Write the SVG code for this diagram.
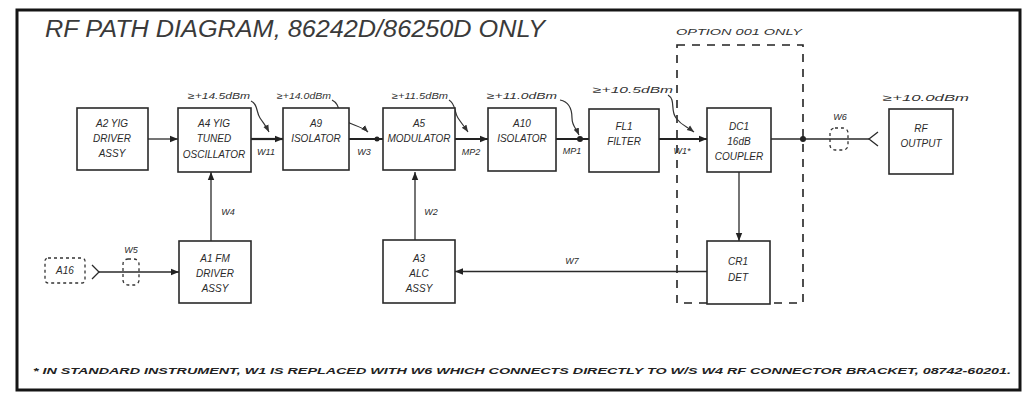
<svg xmlns="http://www.w3.org/2000/svg" width="1029" height="402" viewBox="0 0 1029 402">
<defs>
<style>
.frame{fill:none;stroke:#151515;stroke-width:3}
.box{fill:#fff;stroke:#2a2a2a;stroke-width:1.6}
.t{font-family:"Liberation Sans",Arial,sans-serif;font-style:italic;fill:#2a2a2a;font-size:10px;text-anchor:middle}
.s{font-family:"Liberation Sans",Arial,sans-serif;font-style:italic;fill:#333;font-size:9px}
.w{font-family:"Liberation Sans",Arial,sans-serif;font-style:italic;fill:#2a2a2a;font-size:9px;text-anchor:middle}
.thin{fill:none;stroke:#2a2a2a;stroke-width:1.3}
.rf{fill:none;stroke:#222;stroke-width:2.2}
.sq{fill:none;stroke:#333;stroke-width:1.2}
.dash{fill:none;stroke:#222;stroke-width:1.6;stroke-dasharray:8,7}
.dsm{fill:none;stroke:#333;stroke-width:1.3;stroke-dasharray:3,3}
</style>
<marker id="arr" viewBox="0 0 10 10" refX="10" refY="5" markerWidth="8" markerHeight="8" orient="auto" markerUnits="userSpaceOnUse">
<path d="M0,1 L10,5 L0,9 z" fill="#222"/>
</marker>
<marker id="arrs" viewBox="0 0 10 10" refX="10" refY="5" markerWidth="7" markerHeight="7" orient="auto" markerUnits="userSpaceOnUse">
<path d="M0,1 L10,5 L0,9 z" fill="#333"/>
</marker>
</defs>
<rect width="1029" height="402" fill="#fff"/>
<rect class="frame" x="17" y="10" width="1003" height="380"/>
<text x="45" y="37" font-family="'Liberation Sans',Arial,sans-serif" font-style="italic" font-size="23" fill="#3a3a3a" textLength="500" lengthAdjust="spacingAndGlyphs">RF PATH DIAGRAM, 86242D/86250D ONLY</text>
<text x="676" y="35" class="s" font-size="9.5" textLength="126" lengthAdjust="spacingAndGlyphs">OPTION 001 ONLY</text>
<rect class="dash" x="677" y="45" width="126" height="258"/>

<g id="connectors">
<line class="thin" x1="148" y1="139" x2="178" y2="139" marker-end="url(#arr)"/>
<line class="rf" x1="251" y1="139" x2="283" y2="139" marker-end="url(#arr)"/>
<line class="rf" x1="349" y1="139" x2="383" y2="139"/>
<line class="rf" x1="455" y1="139" x2="488" y2="139" marker-end="url(#arr)"/>
<line class="rf" x1="556" y1="139" x2="589" y2="139"/>
<line class="rf" x1="659" y1="139" x2="707" y2="139" marker-end="url(#arr)"/>
<circle cx="377" cy="139" r="2.5" fill="#222"/>
<circle cx="580" cy="139" r="3" fill="#222"/>
<line class="thin" x1="771" y1="139" x2="869" y2="139"/>
<circle cx="803" cy="139" r="3" fill="#222"/>
<path class="thin" d="M878,132 L869,139 L878,146"/>
<rect class="dsm" x="830" y="128" width="18" height="22" rx="5"/>
<line class="thin" x1="211" y1="241" x2="211" y2="172" marker-end="url(#arr)"/>
<line class="thin" x1="415" y1="240" x2="415" y2="172" marker-end="url(#arr)"/>
<line class="thin" x1="739" y1="172" x2="739" y2="241" marker-end="url(#arr)"/>
<line class="thin" x1="707" y1="271.5" x2="455" y2="271.5" marker-end="url(#arr)"/>
<line class="thin" x1="99" y1="272" x2="179" y2="272" marker-end="url(#arr)"/>
<path class="thin" d="M92,265 L99,272 L92,279"/>
<rect class="dsm" x="123" y="259" width="16" height="26" rx="5"/>
<path class="sq" d="M251,101 C258,104 256,112 260,118 S266,126 269,132" marker-end="url(#arrs)"/>
<path class="sq" d="M332,100 C340,104 338,112 342,118 S362,126 368,132" marker-end="url(#arrs)"/>
<path class="sq" d="M449,100 C456,104 454,112 458,118 S464,126 468,132" marker-end="url(#arrs)"/>
<path class="sq" d="M560,100 C570,102 572,110 572,118 S576,128 579,135" marker-end="url(#arrs)"/>
<path class="sq" d="M668,95 C676,100 670,110 676,118 S686,126 694,132" marker-end="url(#arrs)"/>
</g>

<g id="power-labels">
<text class="s" x="188" y="99" textLength="62" lengthAdjust="spacingAndGlyphs">≥+14.5dBm</text>
<text class="s" x="277" y="99" textLength="54" lengthAdjust="spacingAndGlyphs">≥+14.0dBm</text>
<text class="s" x="392" y="99" textLength="56" lengthAdjust="spacingAndGlyphs">≥+11.5dBm</text>
<text class="s" x="487" y="99" textLength="70" lengthAdjust="spacingAndGlyphs">≥+11.0dBm</text>
<text class="s" x="593" y="93" textLength="80" lengthAdjust="spacingAndGlyphs">≥+10.5dBm</text>
<text class="s" x="883" y="101" textLength="86" lengthAdjust="spacingAndGlyphs">≥+10.0dBm</text>
</g>

<g id="wire-labels">
<text class="w" x="266" y="155">W11</text>
<text class="w" x="364" y="155">W3</text>
<text class="w" x="471" y="155">MP2</text>
<text class="w" x="572" y="154">MP1</text>
<text class="w" x="682" y="154">W1*</text>
<text class="w" x="840" y="120">W6</text>
<text class="w" x="228" y="215">W4</text>
<text class="w" x="431" y="215">W2</text>
<text class="w" x="572" y="264">W7</text>
<text class="w" x="131" y="253">W5</text>
</g>

<g id="A2"><rect class="box" x="77" y="108" width="71" height="62"/>
<text class="t" x="112" y="127">A2 YIG</text><text class="t" x="112" y="142">DRIVER</text><text class="t" x="112" y="157">ASSY</text></g>
<g id="A4"><rect class="box" x="178" y="108" width="73" height="64"/>
<text class="t" x="214" y="127">A4 YIG</text><text class="t" x="214" y="142">TUNED</text><text class="t" x="214" y="158">OSCILLATOR</text></g>
<g id="A9"><rect class="box" x="283" y="108" width="66" height="62"/>
<text class="t" x="316" y="127">A9</text><text class="t" x="316" y="142">ISOLATOR</text></g>
<g id="A5"><rect class="box" x="383" y="108" width="72" height="62"/>
<text class="t" x="419" y="127">A5</text><text class="t" x="419" y="142">MODULATOR</text></g>
<g id="A10"><rect class="box" x="488" y="108" width="68" height="63"/>
<text class="t" x="522" y="127">A10</text><text class="t" x="522" y="142">ISOLATOR</text></g>
<g id="FL1"><rect class="box" x="589" y="109" width="70" height="63"/>
<text class="t" x="624" y="130">FL1</text><text class="t" x="624" y="145">FILTER</text></g>
<g id="DC1"><rect class="box" x="707" y="108" width="64" height="64"/>
<text class="t" x="739" y="130">DC1</text><text class="t" x="739" y="145">16dB</text><text class="t" x="739" y="160">COUPLER</text></g>
<g id="RFOUT"><rect class="box" x="889" y="109" width="64" height="65"/>
<text class="t" x="921" y="132">RF</text><text class="t" x="921" y="147">OUTPUT</text></g>
<g id="A1"><rect class="box" x="179" y="241" width="72" height="62"/>
<text class="t" x="215" y="262">A1 FM</text><text class="t" x="215" y="277">DRIVER</text><text class="t" x="215" y="292">ASSY</text></g>
<g id="A3"><rect class="box" x="383" y="240" width="72" height="63"/>
<text class="t" x="419" y="262">A3</text><text class="t" x="419" y="277">ALC</text><text class="t" x="419" y="292">ASSY</text></g>
<g id="CR1"><rect class="box" x="707" y="241" width="63" height="63"/>
<text class="t" x="738" y="265">CR1</text><text class="t" x="738" y="281">DET</text></g>
<g id="A16"><rect class="dsm" x="45" y="258" width="40" height="25" rx="3" stroke-dasharray="6,4" stroke-width="1.8"/>
<text class="t" x="65" y="274">A16</text></g>

<text x="33" y="374" font-family="'Liberation Sans',Arial,sans-serif" font-style="italic" font-weight="bold" font-size="9" fill="#222" textLength="978" lengthAdjust="spacingAndGlyphs">* IN STANDARD INSTRUMENT, W1 IS REPLACED WITH W6 WHICH CONNECTS DIRECTLY TO W/S W4 RF CONNECTOR BRACKET, 08742-60201.</text>
</svg>
